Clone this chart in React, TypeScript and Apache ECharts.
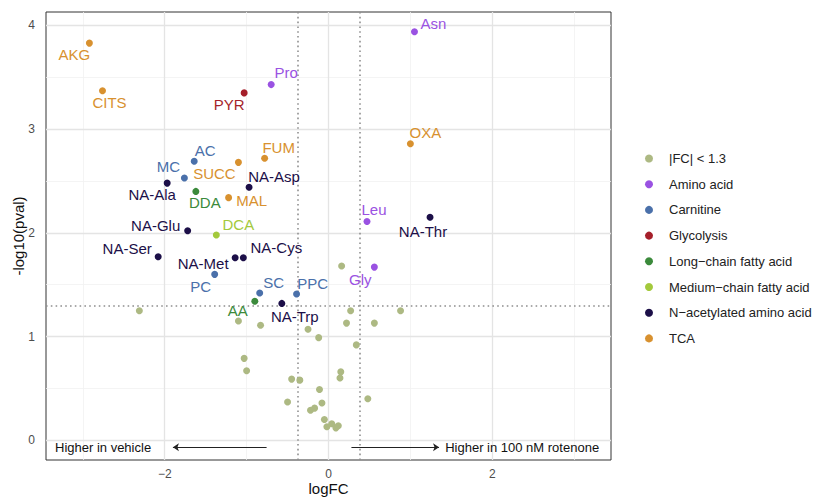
import React, { useEffect, useRef } from "react";
import * as echarts from "echarts";

type Pt = [string, number, number];

// ---- data (logFC, -log10(pval)) ----
const aminoAcid: Pt[] = [
  ["Asn", 1.05, 3.94],
  ["Pro", -0.7, 3.43],
  ["Leu", 0.47, 2.11],
  ["Gly", 0.56, 1.67],
];
const carnitine: Pt[] = [
  ["AC", -1.64, 2.69],
  ["MC", -1.76, 2.53],
  ["PC", -1.39, 1.6],
  ["SC", -0.84, 1.42],
  ["PPC", -0.39, 1.41],
];
const glycolysis: Pt[] = [["PYR", -1.03, 3.35]];
const longChain: Pt[] = [
  ["DDA", -1.62, 2.4],
  ["AA", -0.9, 1.34],
];
const mediumChain: Pt[] = [["DCA", -1.37, 1.98]];
const nAcetylated: Pt[] = [
  ["NA-Asp", -0.97, 2.44],
  ["NA-Ala", -1.97, 2.48],
  ["NA-Glu", -1.72, 2.02],
  ["NA-Ser", -2.08, 1.77],
  ["NA-Met", -1.14, 1.76],
  ["NA-Cys", -1.04, 1.76],
  ["NA-Trp", -0.57, 1.32],
  ["NA-Thr", 1.24, 2.15],
];
const tca: Pt[] = [
  ["AKG", -2.92, 3.83],
  ["CITS", -2.76, 3.37],
  ["SUCC", -1.1, 2.68],
  ["FUM", -0.78, 2.72],
  ["MAL", -1.22, 2.34],
  ["OXA", 1.0, 2.86],
];
const notSignificant: [number, number][] = [
  [-2.31, 1.25], [-1.1, 1.15], [-0.83, 1.11], [-0.25, 1.07], [-0.12, 0.99],
  [0.16, 1.68], [0.27, 1.25], [0.88, 1.25], [0.22, 1.13], [0.56, 1.13],
  [0.34, 0.92], [-1.03, 0.79], [-1.0, 0.67], [-0.45, 0.59], [-0.35, 0.58],
  [0.15, 0.66], [0.14, 0.6], [-0.11, 0.49], [-0.5, 0.37], [-0.08, 0.36],
  [-0.22, 0.29], [-0.17, 0.31], [0.48, 0.4], [-0.05, 0.2], [0.04, 0.16],
  [-0.02, 0.13], [0.09, 0.12], [0.12, 0.14],
];

const xTicks = [-2, 0, 2];
const yTicks = [0, 1, 2, 3, 4];
const xMinor = [-3, -1, 1, 3];
const yMinor = [0.5, 1.5, 2.5, 3.5];
const fcCut = 0.378; // log2(1.3)
const pCut = 1.301; // -log10(0.05)

const legendNames = [
  "|FC| < 1.3",
  "Amino acid",
  "Carnitine",
  "Glycolysis",
  "Long\u2212chain fatty acid",
  "Medium\u2212chain fatty acid",
  "N\u2212acetylated amino acid",
  "TCA",
];

// ---- style ----
const colors: Record<string, string> = {
  "|FC| < 1.3": "#adb983",
  "Amino acid": "#9a52e2",
  Carnitine: "#4a70aa",
  Glycolysis: "#a51f2a",
  "Long\u2212chain fatty acid": "#3b8a3b",
  "Medium\u2212chain fatty acid": "#a3c93c",
  "N\u2212acetylated amino acid": "#1c0f48",
  TCA: "#d8912f",
};

// label offsets (px) relative to the point
const labelOffset: Record<string, [number, number]> = {
  AKG: [-15, 11], CITS: [7, 12], PYR: [-15, 12], Pro: [15, -12],
  AC: [11, -11], MC: [-16, -11], SUCC: [-24, 11], FUM: [14, -11],
  "NA-Asp": [25, -11], "NA-Ala": [-15, 11], DDA: [9, 11], MAL: [23, 3],
  "NA-Glu": [-32, -5], DCA: [22, -10], "NA-Ser": [-31, -8], "NA-Met": [-32, 6],
  "NA-Cys": [33, -10], PC: [-14, 12], SC: [14, -11], PPC: [16, -11],
  AA: [-17, 9], "NA-Trp": [13, 13], Gly: [-14, 12], Asn: [19, -8],
  OXA: [15, -11], Leu: [7, -12], "NA-Thr": [-7, 14],
};

const FONT = "Liberation Sans, Arial, sans-serif";

export default function App() {
  const ref = useRef<HTMLDivElement>(null);

  useEffect(() => {
    if (!ref.current) return;
    const chart = echarts.init(ref.current, undefined, { renderer: "svg" });

    const labelled = (name: string, pts: Pt[]) => ({
      name,
      type: "scatter",
      z: 4,
      symbol: "circle",
      symbolSize: 7,
      itemStyle: { color: colors[name], opacity: 1 },
      data: pts.map(([n, x, y]) => ({ name: n, value: [x, y] })),
      label: {
        show: true,
        position: "inside",
        formatter: "{b}",
        color: colors[name],
        fontSize: 15,
        fontFamily: FONT,
        align: "center",
        verticalAlign: "middle",
      },
      labelLayout: (p: any) => {
        const n = pts[p.dataIndex] ? pts[p.dataIndex][0] : "";
        const o = labelOffset[n] || [0, 0];
        return { dx: o[0], dy: o[1], hideOverlap: false };
      },
    });

    const major = { color: "#e4e4e4", width: 1.3, type: "solid" };
    const minor = { color: "#f1f1f1", width: 0.8, type: "solid" };
    const dotted = { color: "#8f8f8f", width: 1.6, type: [1.6, 3.2] };

    const arrowY = -0.067;

    chart.setOption({
      animation: false,
      textStyle: { fontFamily: FONT },
      grid: {
        left: 46,
        right: 206,
        top: 12,
        bottom: 38,
        show: true,
        borderColor: "#333333",
        borderWidth: 1,
        backgroundColor: "#ffffff",
        containLabel: false,
        outerBoundsMode: "none",
      },
      xAxis: {
        type: "value",
        min: -3.45,
        max: 3.45,
        name: "logFC",
        nameLocation: "middle",
        nameGap: 21,
        nameMoveOverlap: false,
        nameTextStyle: { fontSize: 15, color: "#111", fontFamily: FONT },
        axisLine: { show: false },
        axisTick: { show: true, length: 4, customValues: xTicks, lineStyle: { color: "#333" } },
        axisLabel: { customValues: xTicks, fontSize: 12, color: "#4d4d4d", margin: 8, fontFamily: FONT, formatter: (v: number) => (v < 0 ? "\u2212" + Math.abs(v) : String(v)) },
        splitLine: { show: false },
      },
      yAxis: {
        type: "value",
        min: -0.19,
        max: 4.13,
        name: "-log10(pval)",
        nameLocation: "middle",
        nameRotate: 90,
        nameGap: 20,
        nameMoveOverlap: false,
        nameTextStyle: { fontSize: 15, color: "#111", fontFamily: FONT },
        axisLine: { show: false },
        axisTick: { show: true, length: 4, customValues: yTicks, lineStyle: { color: "#333" } },
        axisLabel: { customValues: yTicks, fontSize: 12, color: "#4d4d4d", margin: 11, fontFamily: FONT },
        splitLine: { show: false },
      },
      legend: {
        orient: "vertical",
        left: 640,
        top: 146,
        data: legendNames,
        icon: "circle",
        itemWidth: 30,
        itemHeight: 8,
        itemGap: 10.7,
        textStyle: { fontSize: 13, color: "#222", fontFamily: FONT, lineHeight: 15 },
        selectedMode: false,
      },
      series: [
        {
          name: "__grid",
          type: "scatter",
          z: 1,
          data: [],
          silent: true,
          markLine: {
            silent: true,
            z: 1,
            symbol: ["none", "none"],
            label: { show: false },
            animation: false,
            data: [
              ...xMinor.map((v) => ({ xAxis: v, lineStyle: minor })),
              ...yMinor.map((v) => ({ yAxis: v, lineStyle: minor })),
              ...xTicks.map((v) => ({ xAxis: v, lineStyle: major })),
              ...yTicks.map((v) => ({ yAxis: v, lineStyle: major })),
              { xAxis: -fcCut, lineStyle: dotted },
              { xAxis: fcCut, lineStyle: dotted },
              { yAxis: pCut, lineStyle: dotted },
            ],
          },
        },
        {
          name: "__annot",
          type: "scatter",
          z: 2,
          data: [],
          silent: true,
          markLine: {
            silent: true,
            z: 2,
            symbol: ["none", "arrow"],
            symbolSize: [6, 6],
            label: { show: false },
            lineStyle: { color: "#222", width: 1, type: "solid" },
            data: [
              [{ coord: [-0.756, arrowY] }, { coord: [-1.9, arrowY] }],
              [{ coord: [0.28, arrowY] }, { coord: [1.35, arrowY] }],
            ],
          },
          markPoint: {
            silent: true,
            z: 2,
            symbol: "circle",
            symbolSize: 0,
            label: {
              show: true,
              position: "right",
              distance: 0,
              fontSize: 13,
              color: "#111",
              fontFamily: FONT,
              formatter: "{b}",
            },
            data: [
              { name: "Higher in vehicle", coord: [-3.34, arrowY] },
              { name: "Higher in 100 nM rotenone", coord: [1.425, arrowY] },
            ],
          },
        },
        {
          name: "|FC| < 1.3",
          type: "scatter",
          z: 3,
          symbol: "circle",
          symbolSize: 7,
          itemStyle: { color: colors["|FC| < 1.3"], opacity: 1 },
          data: notSignificant,
        },
        labelled("Amino acid", aminoAcid),
        labelled("Carnitine", carnitine),
        labelled("Glycolysis", glycolysis),
        labelled("Long\u2212chain fatty acid", longChain),
        labelled("Medium\u2212chain fatty acid", mediumChain),
        labelled("N\u2212acetylated amino acid", nAcetylated),
        labelled("TCA", tca),
      ],
    });

    return () => chart.dispose();
  }, []);

  return <div ref={ref} style={{ width: 817, height: 498, position: "absolute", left: 0, top: 0 }} />;
}
